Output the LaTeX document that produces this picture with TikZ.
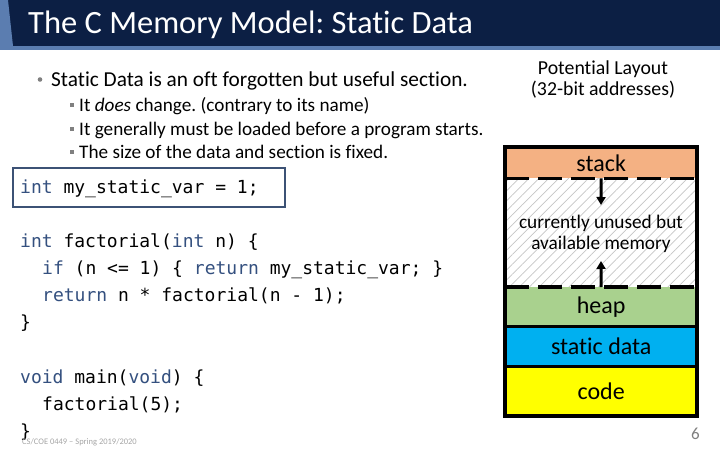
\documentclass[tikz,border=0pt]{standalone}
\usepackage{fontspec}
\setmainfont{Carlito}[Ligatures={NoCommon}]
\setmonofont{DejaVu Sans Mono}
\usetikzlibrary{patterns.meta,arrows.meta}
\frenchspacing
\definecolor{navy}{HTML}{0C1F44}
\definecolor{barblue}{HTML}{5B7DB0}
\definecolor{boxblue}{HTML}{3C5275}
\definecolor{kw}{HTML}{34507F}
\definecolor{stackc}{HTML}{F4B183}
\definecolor{heapc}{HTML}{A9D18E}
\definecolor{staticc}{HTML}{00B0F0}
\definecolor{codec}{HTML}{FFFF00}
\newcommand{\kwd}[1]{\textcolor{kw}{#1}}
\begin{document}
\begin{tikzpicture}[x=1pt,y=-1pt,
  txt/.style={anchor=base west, inner sep=0pt},
  bul/.style={txt, font=\fontsize{21.3}{25}\selectfont},
  subbul/.style={txt, font=\fontsize{19.2}{23}\selectfont},
  codeline/.style={txt, font=\ttfamily\fontsize{18}{21}\selectfont},
  region/.style={anchor=north west, inner sep=0pt, minimum width=192pt, font=\fontsize{24}{28}\selectfont},
  memarrow/.style={line width=3pt, -{Triangle[length=8pt,width=9pt]}},
  dashsep/.style={line width=3.5pt, dash pattern=on 24pt off 9pt},
  solsep/.style={line width=3pt}
]
\useasboundingbox (0,0) rectangle (720,450);
\fill[white] (0,0) rectangle (720,450);
% title bar
\fill[navy] (0,0) rectangle (720,46);
\fill[barblue] (0,46) rectangle (720,50);
\fill[barblue] (0,0) -- (8,0) -- (13,46) -- (0,46) -- cycle;
\node[txt, text=white, font=\fontsize{32.5}{38}\selectfont] (title) at (28,33) {The C Memory Model: Static Data};

% bullets
\fill[gray] (40,79.5) circle (2.3);
\node[bul] (b1) at (51,86) {Static Data is an oft forgotten but useful section.};
\fill[gray] (69.5,102.5) rectangle (73.5,106.5);
\node[subbul] (s1) at (79,111) {It \textit{does} change. (contrary to its name)};
\fill[gray] (69.5,126.5) rectangle (73.5,130.5);
\node[subbul] (s2) at (79,135) {It generally must be loaded before a program starts.};
\fill[gray] (69.5,149.5) rectangle (73.5,153.5);
\node[subbul] (s3) at (79,158) {The size of the data and section is fixed.};

% code box
\draw[boxblue, line width=2.5pt] (13,168) rectangle (285,207);
\node[codeline] (c0) at (20,193) {\kwd{int} my\_static\_var = 1;};

% code
\node[codeline] (c1) at (20,247) {\kwd{int} factorial(\kwd{int} n) \{};
\node[codeline] (c2) at (42,274) {\kwd{if} (n <= 1) \{ \kwd{return} my\_static\_var; \}};
\node[codeline] (c3) at (42,301) {\kwd{return} n * factorial(n - 1);};
\node[codeline] (c4) at (20,328) {\}};
\node[codeline] (c5) at (20,383) {\kwd{void} main(\kwd{void}) \{};
\node[codeline] (c6) at (42,410) {factorial(5);};
\node[codeline] (c7) at (20,437) {\}};

% footer
\node[txt, text=gray!70, font=\fontsize{8.5}{10}\selectfont] (foot) at (22,444) {CS/COE 0449 -- Spring 2019/2020};
\node[anchor=base east, inner sep=0pt, text=gray, font=\fontsize{17}{19}\selectfont] (pg) at (700,439) {6};

% layout heading
\node[anchor=center, inner sep=0pt, font=\fontsize{19.8}{21}\selectfont, align=center] (lh) at (603,79) {Potential Layout\\(32-bit addresses)};

% memory regions
\node[region, fill=stackc, minimum height=31pt, text depth=-4pt] (stack) at (505,147) {stack};
\node[region, minimum height=109pt, pattern={Lines[angle=45,distance=7pt,line width=0.7pt]}, pattern color=gray!45] (unusedbg) at (505,178) {};
\node[anchor=center, inner sep=0pt, align=center, font=\fontsize{19.3}{21}\selectfont] (unused) at (601,234) {currently unused but\\available memory};
\node[region, fill=heapc, minimum height=39pt] (heap) at (505,287) {heap};
\node[region, fill=staticc, minimum height=40pt] (static) at (505,326) {static data};
\node[region, fill=codec, minimum height=50pt] (code) at (505,366) {code};

\draw[dashsep] (stack.south west) -- (stack.south east);
\draw[dashsep] (heap.north west) -- (heap.north east);
\draw[solsep] (heap.south west) -- (heap.south east);
\draw[solsep] (static.south west) -- (static.south east);
\draw[line width=4pt] (stack.north west) rectangle (code.south east);

\coordinate (dnend) at (601,205);
\coordinate (upend) at (601,261);
\draw[memarrow] (stack.south) -- (dnend);
\draw[memarrow] (heap.north) -- (upend);
\end{tikzpicture}
\end{document}
